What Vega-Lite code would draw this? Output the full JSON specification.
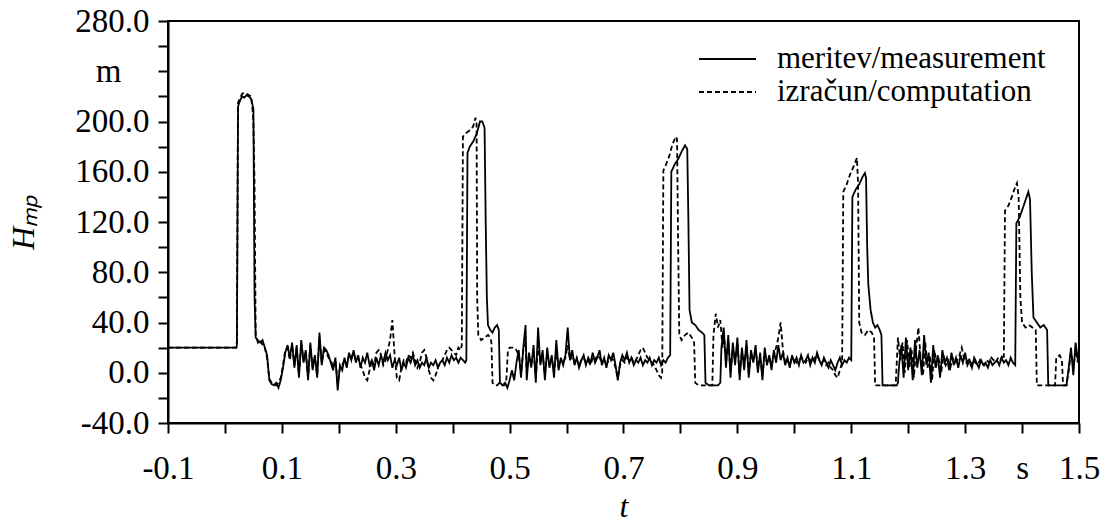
{
"$schema":"https://vega.github.io/schema/vega-lite/v6.json",
"width":911,"height":402,
"autosize":{"type":"none"},
"padding":{"left":168,"top":21,"right":38,"bottom":103},
"background":"white",
"config":{"view":{"stroke":"black","strokeWidth":2},"font":"Liberation Serif"},
"datasets":{
"m":[{"t":-0.1,"H":20},{"t":0.02,"H":20},{"t":0.021,"H":22},{"t":0.023,"H":212},{"t":0.026,"H":216},{"t":0.03,"H":220},{"t":0.034,"H":219},{"t":0.038,"H":221},{"t":0.042,"H":220},{"t":0.046,"H":218},{"t":0.048,"H":214},{"t":0.05,"H":210},{"t":0.052,"H":60},{"t":0.054,"H":28},{"t":0.058,"H":26},{"t":0.062,"H":24},{"t":0.066,"H":26},{"t":0.07,"H":20},{"t":0.074,"H":14},{"t":0.078,"H":-6},{"t":0.082,"H":-9},{"t":0.086,"H":-10},{"t":0.09,"H":-8},{"t":0.094,"H":-12},{"t":0.098,"H":-6},{"t":0.102,"H":4},
{"t":0.106,"H":16},{"t":0.11,"H":22},{"t":0.114,"H":12},{"t":0.118,"H":24},{"t":0.122,"H":4},{"t":0.126,"H":22},{"t":0.13,"H":-4},{"t":0.134,"H":26},{"t":0.138,"H":8},{"t":0.142,"H":18},{"t":0.146,"H":-6},{"t":0.15,"H":24},{"t":0.154,"H":2},{"t":0.158,"H":14},{"t":0.162,"H":-4},{"t":0.166,"H":32},{"t":0.17,"H":6},{"t":0.174,"H":20},{"t":0.178,"H":18},{"t":0.182,"H":14},{"t":0.186,"H":8},{"t":0.19,"H":2},{"t":0.194,"H":12},{"t":0.198,"H":-14},{"t":0.202,"H":6},{"t":0.206,"H":2},{"t":0.21,"H":12},{"t":0.214,"H":4},{"t":0.218,"H":16},{"t":0.222,"H":10},{"t":0.226,"H":18},{"t":0.23,"H":8},{"t":0.234,"H":14},{"t":0.238,"H":4},{"t":0.242,"H":12},{"t":0.246,"H":8},{"t":0.25,"H":16},{"t":0.254,"H":6},{"t":0.258,"H":10},{"t":0.262,"H":2},{"t":0.266,"H":12},{"t":0.27,"H":6},{"t":0.274,"H":14},{"t":0.278,"H":8},{"t":0.282,"H":16},{"t":0.286,"H":10},{"t":0.29,"H":14},{"t":0.294,"H":4},{"t":0.298,"H":10},{"t":0.302,"H":6},{"t":0.306,"H":12},{"t":0.31,"H":2},{"t":0.314,"H":8},{"t":0.318,"H":4},{"t":0.322,"H":12},{"t":0.326,"H":8},{"t":0.33,"H":14},{"t":0.334,"H":6},{"t":0.338,"H":10},{"t":0.342,"H":4},{"t":0.346,"H":8},{"t":0.35,"H":6},{"t":0.354,"H":12},{"t":0.358,"H":4},{"t":0.362,"H":8},{"t":0.366,"H":6},{"t":0.37,"H":10},{"t":0.374,"H":4},{"t":0.378,"H":8},{"t":0.382,"H":10},{"t":0.386,"H":6},{"t":0.39,"H":12},{"t":0.394,"H":8},{"t":0.398,"H":14},{"t":0.402,"H":10},{"t":0.406,"H":12},{"t":0.41,"H":8},{"t":0.414,"H":12},{"t":0.418,"H":10},{"t":0.422,"H":8},{"t":0.424,"H":10},
{"t":0.426,"H":175},{"t":0.43,"H":180},{"t":0.436,"H":184},{"t":0.442,"H":190},{"t":0.448,"H":200},{"t":0.452,"H":200},{"t":0.456,"H":195},{"t":0.458,"H":120},{"t":0.46,"H":60},{"t":0.462,"H":38},{"t":0.466,"H":34},{"t":0.47,"H":32},{"t":0.474,"H":36},{"t":0.478,"H":38},{"t":0.481,"H":34},{"t":0.483,"H":-8},{"t":0.488,"H":-10},{"t":0.492,"H":-8},{"t":0.496,"H":-12},{"t":0.5,"H":-6},
{"t":0.504,"H":2},{"t":0.508,"H":-6},{"t":0.512,"H":8},{"t":0.516,"H":18},{"t":0.52,"H":-4},{"t":0.524,"H":20},{"t":0.528,"H":38},{"t":0.53,"H":-6},{"t":0.534,"H":16},{"t":0.538,"H":4},{"t":0.542,"H":22},{"t":0.546,"H":-8},{"t":0.55,"H":36},{"t":0.554,"H":6},{"t":0.558,"H":18},{"t":0.562,"H":-6},{"t":0.566,"H":20},{"t":0.57,"H":4},{"t":0.574,"H":14},{"t":0.578,"H":-4},{"t":0.582,"H":26},{"t":0.586,"H":2},{"t":0.59,"H":12},{"t":0.594,"H":6},{"t":0.598,"H":14},{"t":0.602,"H":36},{"t":0.606,"H":10},{"t":0.61,"H":18},{"t":0.614,"H":6},{"t":0.618,"H":12},{"t":0.622,"H":4},{"t":0.626,"H":10},{"t":0.63,"H":14},{"t":0.634,"H":6},{"t":0.638,"H":12},{"t":0.642,"H":8},{"t":0.646,"H":16},{"t":0.65,"H":8},{"t":0.654,"H":12},{"t":0.658,"H":18},{"t":0.662,"H":6},{"t":0.666,"H":12},{"t":0.67,"H":4},{"t":0.674,"H":14},{"t":0.678,"H":10},{"t":0.682,"H":16},{"t":0.686,"H":6},{"t":0.69,"H":-6},{"t":0.694,"H":8},{"t":0.698,"H":14},{"t":0.702,"H":10},{"t":0.706,"H":16},{"t":0.71,"H":8},{"t":0.714,"H":12},{"t":0.718,"H":6},{"t":0.722,"H":10},{"t":0.726,"H":8},{"t":0.73,"H":12},{"t":0.734,"H":6},{"t":0.738,"H":10},{"t":0.742,"H":8},{"t":0.746,"H":12},{"t":0.75,"H":6},{"t":0.754,"H":10},{"t":0.758,"H":8},{"t":0.762,"H":12},{"t":0.766,"H":6},{"t":0.77,"H":10},{"t":0.774,"H":8},{"t":0.778,"H":12},{"t":0.782,"H":14},
{"t":0.784,"H":160},{"t":0.79,"H":166},{"t":0.796,"H":170},{"t":0.802,"H":176},{"t":0.808,"H":181},{"t":0.812,"H":178},{"t":0.814,"H":120},{"t":0.816,"H":50},{"t":0.82,"H":40},{"t":0.826,"H":38},{"t":0.832,"H":34},{"t":0.838,"H":32},{"t":0.842,"H":30},{"t":0.844,"H":-8},{"t":0.85,"H":-10},{"t":0.856,"H":-10},{"t":0.862,"H":-10},{"t":0.866,"H":-10},{"t":0.87,"H":-8},{"t":0.872,"H":20},
{"t":0.876,"H":36},{"t":0.88,"H":4},{"t":0.884,"H":30},{"t":0.888,"H":-4},{"t":0.892,"H":24},{"t":0.896,"H":6},{"t":0.9,"H":28},{"t":0.904,"H":-6},{"t":0.908,"H":20},{"t":0.912,"H":2},{"t":0.916,"H":26},{"t":0.92,"H":-4},{"t":0.924,"H":18},{"t":0.928,"H":8},{"t":0.932,"H":22},{"t":0.936,"H":0},{"t":0.94,"H":16},{"t":0.944,"H":-6},{"t":0.948,"H":20},{"t":0.952,"H":6},{"t":0.956,"H":14},{"t":0.96,"H":2},{"t":0.964,"H":18},{"t":0.968,"H":8},{"t":0.972,"H":22},{"t":0.976,"H":10},{"t":0.98,"H":16},{"t":0.984,"H":6},{"t":0.988,"H":12},{"t":0.992,"H":4},{"t":0.996,"H":14},{"t":1.0,"H":8},{"t":1.004,"H":12},{"t":1.008,"H":6},{"t":1.012,"H":14},{"t":1.016,"H":8},{"t":1.02,"H":10},{"t":1.024,"H":14},{"t":1.028,"H":6},{"t":1.032,"H":12},{"t":1.036,"H":8},{"t":1.04,"H":16},{"t":1.044,"H":10},{"t":1.048,"H":6},{"t":1.052,"H":12},{"t":1.056,"H":8},{"t":1.06,"H":4},{"t":1.064,"H":10},{"t":1.068,"H":6},{"t":1.072,"H":2},{"t":1.076,"H":8},{"t":1.08,"H":12},{"t":1.084,"H":6},{"t":1.088,"H":10},{"t":1.092,"H":8},{"t":1.096,"H":12},{"t":1.1,"H":10},
{"t":1.102,"H":140},{"t":1.108,"H":146},{"t":1.114,"H":150},{"t":1.12,"H":156},{"t":1.124,"H":159},{"t":1.126,"H":155},{"t":1.128,"H":100},{"t":1.13,"H":70},{"t":1.134,"H":50},{"t":1.138,"H":40},{"t":1.142,"H":36},{"t":1.146,"H":38},{"t":1.15,"H":34},{"t":1.153,"H":30},{"t":1.155,"H":-10},{"t":1.16,"H":-10},{"t":1.17,"H":-10},{"t":1.18,"H":-10},{"t":1.182,"H":-8},
{"t":1.184,"H":6},{"t":1.188,"H":22},{"t":1.192,"H":-4},{"t":1.196,"H":28},{"t":1.2,"H":2},{"t":1.204,"H":20},{"t":1.208,"H":-6},{"t":1.212,"H":26},{"t":1.216,"H":4},{"t":1.22,"H":18},{"t":1.224,"H":-2},{"t":1.228,"H":30},{"t":1.232,"H":6},{"t":1.236,"H":16},{"t":1.24,"H":-8},{"t":1.244,"H":22},{"t":1.248,"H":4},{"t":1.252,"H":14},{"t":1.256,"H":-4},{"t":1.26,"H":18},{"t":1.264,"H":8},{"t":1.268,"H":12},{"t":1.272,"H":2},{"t":1.276,"H":16},{"t":1.28,"H":6},{"t":1.284,"H":12},{"t":1.288,"H":4},{"t":1.292,"H":14},{"t":1.296,"H":8},{"t":1.3,"H":16},{"t":1.304,"H":6},{"t":1.308,"H":10},{"t":1.312,"H":4},{"t":1.316,"H":12},{"t":1.32,"H":8},{"t":1.324,"H":4},{"t":1.328,"H":10},{"t":1.332,"H":6},{"t":1.336,"H":8},{"t":1.34,"H":4},{"t":1.344,"H":10},{"t":1.348,"H":6},{"t":1.352,"H":8},{"t":1.356,"H":10},{"t":1.36,"H":6},{"t":1.364,"H":12},{"t":1.368,"H":8},{"t":1.372,"H":10},{"t":1.376,"H":6},{"t":1.38,"H":12},{"t":1.384,"H":8},{"t":1.388,"H":6},
{"t":1.39,"H":119},{"t":1.396,"H":124},{"t":1.402,"H":132},{"t":1.408,"H":140},{"t":1.411,"H":144},{"t":1.414,"H":138},{"t":1.417,"H":80},{"t":1.42,"H":44},{"t":1.426,"H":40},{"t":1.432,"H":36},{"t":1.438,"H":38},{"t":1.444,"H":34},{"t":1.446,"H":-10},{"t":1.46,"H":-10},{"t":1.478,"H":-10},{"t":1.482,"H":4},{"t":1.486,"H":20},{"t":1.49,"H":-2},{"t":1.494,"H":24},{"t":1.498,"H":10},{"t":1.5,"H":18}],
"c":[{"t":-0.1,"H":20},{"t":0.02,"H":20},{"t":0.021,"H":25},{"t":0.023,"H":215},{"t":0.026,"H":218},{"t":0.03,"H":222},{"t":0.034,"H":223},{"t":0.038,"H":222},{"t":0.042,"H":221},{"t":0.046,"H":220},{"t":0.048,"H":212},{"t":0.05,"H":200},{"t":0.052,"H":150},{"t":0.054,"H":30},{"t":0.058,"H":24},{"t":0.062,"H":26},{"t":0.066,"H":22},{"t":0.07,"H":20},{"t":0.074,"H":12},{"t":0.078,"H":-5},{"t":0.082,"H":-8},{"t":0.086,"H":-9},{"t":0.09,"H":-10},{"t":0.094,"H":-8},{"t":0.098,"H":-4},{"t":0.102,"H":6},
{"t":0.106,"H":18},{"t":0.11,"H":20},{"t":0.114,"H":10},{"t":0.118,"H":22},{"t":0.122,"H":6},{"t":0.126,"H":20},{"t":0.13,"H":-2},{"t":0.134,"H":24},{"t":0.138,"H":10},{"t":0.142,"H":16},{"t":0.146,"H":-4},{"t":0.15,"H":22},{"t":0.154,"H":4},{"t":0.158,"H":12},{"t":0.162,"H":-2},{"t":0.166,"H":28},{"t":0.17,"H":8},{"t":0.174,"H":18},{"t":0.178,"H":16},{"t":0.182,"H":12},{"t":0.186,"H":10},{"t":0.19,"H":4},{"t":0.194,"H":10},{"t":0.198,"H":-8},{"t":0.202,"H":4},{"t":0.206,"H":6},{"t":0.21,"H":10},{"t":0.214,"H":6},{"t":0.218,"H":14},{"t":0.222,"H":12},{"t":0.226,"H":16},{"t":0.23,"H":10},{"t":0.234,"H":12},{"t":0.238,"H":6},{"t":0.242,"H":2},{"t":0.246,"H":-4},{"t":0.25,"H":-6},{"t":0.254,"H":2},{"t":0.258,"H":10},{"t":0.262,"H":6},{"t":0.266,"H":16},{"t":0.27,"H":18},{"t":0.274,"H":14},{"t":0.278,"H":6},{"t":0.282,"H":10},{"t":0.286,"H":18},{"t":0.29,"H":26},{"t":0.294,"H":42},{"t":0.298,"H":14},{"t":0.302,"H":-4},{"t":0.306,"H":-6},{"t":0.31,"H":4},{"t":0.314,"H":10},{"t":0.318,"H":8},{"t":0.322,"H":14},{"t":0.326,"H":12},{"t":0.33,"H":16},{"t":0.334,"H":10},{"t":0.338,"H":4},{"t":0.342,"H":8},{"t":0.346,"H":16},{"t":0.35,"H":18},{"t":0.354,"H":12},{"t":0.358,"H":2},{"t":0.362,"H":-4},{"t":0.366,"H":-6},{"t":0.37,"H":-2},{"t":0.374,"H":4},{"t":0.378,"H":8},{"t":0.382,"H":10},{"t":0.386,"H":14},{"t":0.39,"H":18},{"t":0.394,"H":20},{"t":0.398,"H":18},{"t":0.402,"H":16},{"t":0.406,"H":14},{"t":0.41,"H":20},{"t":0.414,"H":18},{"t":0.416,"H":22},
{"t":0.418,"H":188},{"t":0.424,"H":191},{"t":0.43,"H":193},{"t":0.436,"H":196},{"t":0.44,"H":203},{"t":0.442,"H":198},{"t":0.443,"H":60},{"t":0.445,"H":30},{"t":0.45,"H":26},{"t":0.456,"H":28},{"t":0.462,"H":30},{"t":0.466,"H":28},{"t":0.468,"H":24},{"t":0.47,"H":-8},{"t":0.474,"H":-10},{"t":0.478,"H":-10},{"t":0.482,"H":-8},{"t":0.486,"H":-10},{"t":0.49,"H":-10},{"t":0.494,"H":-8},{"t":0.497,"H":18},{"t":0.5,"H":20},{"t":0.504,"H":20},{"t":0.508,"H":20},{"t":0.512,"H":18},{"t":0.516,"H":14},{"t":0.52,"H":-2},{"t":0.524,"H":18},{"t":0.528,"H":24},{"t":0.53,"H":0},{"t":0.534,"H":14},{"t":0.538,"H":6},{"t":0.542,"H":18},{"t":0.546,"H":-4},{"t":0.55,"H":22},{"t":0.554,"H":8},{"t":0.558,"H":14},{"t":0.562,"H":-2},{"t":0.566,"H":16},{"t":0.57,"H":6},{"t":0.574,"H":12},{"t":0.578,"H":0},{"t":0.582,"H":18},{"t":0.586,"H":4},{"t":0.59,"H":10},{"t":0.594,"H":8},{"t":0.598,"H":12},{"t":0.602,"H":22},{"t":0.606,"H":10},{"t":0.61,"H":14},{"t":0.614,"H":8},{"t":0.618,"H":10},{"t":0.622,"H":6},{"t":0.626,"H":10},{"t":0.63,"H":12},{"t":0.634,"H":8},{"t":0.638,"H":10},{"t":0.642,"H":6},{"t":0.646,"H":12},{"t":0.65,"H":10},{"t":0.654,"H":14},{"t":0.658,"H":12},{"t":0.662,"H":8},{"t":0.666,"H":10},{"t":0.67,"H":6},{"t":0.674,"H":10},{"t":0.678,"H":12},{"t":0.682,"H":10},{"t":0.686,"H":4},{"t":0.69,"H":-4},{"t":0.694,"H":6},{"t":0.698,"H":10},{"t":0.702,"H":8},{"t":0.706,"H":12},{"t":0.71,"H":10},{"t":0.714,"H":12},{"t":0.718,"H":8},{"t":0.722,"H":10},{"t":0.726,"H":14},{"t":0.73,"H":18},{"t":0.734,"H":20},{"t":0.738,"H":16},{"t":0.742,"H":12},{"t":0.746,"H":10},{"t":0.75,"H":8},{"t":0.754,"H":6},{"t":0.758,"H":2},{"t":0.762,"H":-2},{"t":0.766,"H":-4},{"t":0.768,"H":0},
{"t":0.77,"H":161},{"t":0.774,"H":165},{"t":0.78,"H":172},{"t":0.786,"H":182},{"t":0.792,"H":188},{"t":0.794,"H":186},{"t":0.796,"H":100},{"t":0.798,"H":30},{"t":0.802,"H":26},{"t":0.808,"H":30},{"t":0.814,"H":32},{"t":0.82,"H":28},{"t":0.824,"H":24},{"t":0.826,"H":-8},{"t":0.832,"H":-10},{"t":0.84,"H":-10},{"t":0.848,"H":-10},{"t":0.856,"H":-10},{"t":0.858,"H":30},{"t":0.862,"H":47},{"t":0.866,"H":36},{"t":0.87,"H":42},{"t":0.874,"H":20},{"t":0.876,"H":34},{"t":0.88,"H":8},{"t":0.884,"H":26},{"t":0.888,"H":0},{"t":0.892,"H":20},{"t":0.896,"H":10},{"t":0.9,"H":24},{"t":0.904,"H":-2},{"t":0.908,"H":16},{"t":0.912,"H":6},{"t":0.916,"H":22},{"t":0.92,"H":0},{"t":0.924,"H":14},{"t":0.928,"H":10},{"t":0.932,"H":18},{"t":0.936,"H":4},{"t":0.94,"H":12},{"t":0.944,"H":-2},{"t":0.948,"H":16},{"t":0.952,"H":8},{"t":0.956,"H":12},{"t":0.96,"H":6},{"t":0.964,"H":14},{"t":0.968,"H":20},{"t":0.972,"H":28},{"t":0.976,"H":40},{"t":0.98,"H":18},{"t":0.984,"H":8},{"t":0.988,"H":10},{"t":0.992,"H":6},{"t":0.996,"H":12},{"t":1.0,"H":10},{"t":1.004,"H":8},{"t":1.008,"H":10},{"t":1.012,"H":12},{"t":1.016,"H":10},{"t":1.02,"H":8},{"t":1.024,"H":12},{"t":1.028,"H":10},{"t":1.032,"H":8},{"t":1.036,"H":12},{"t":1.04,"H":14},{"t":1.044,"H":10},{"t":1.048,"H":8},{"t":1.052,"H":10},{"t":1.056,"H":6},{"t":1.06,"H":8},{"t":1.064,"H":4},{"t":1.068,"H":2},{"t":1.072,"H":-2},{"t":1.076,"H":-4},{"t":1.08,"H":2},{"t":1.084,"H":8},
{"t":1.086,"H":144},{"t":1.092,"H":150},{"t":1.098,"H":158},{"t":1.104,"H":164},{"t":1.11,"H":171},{"t":1.112,"H":150},{"t":1.114,"H":40},{"t":1.118,"H":32},{"t":1.124,"H":30},{"t":1.13,"H":34},{"t":1.136,"H":32},{"t":1.14,"H":28},{"t":1.142,"H":-10},{"t":1.16,"H":-10},{"t":1.178,"H":-10},{"t":1.182,"H":28},{"t":1.186,"H":10},{"t":1.19,"H":24},{"t":1.194,"H":0},{"t":1.198,"H":26},{"t":1.202,"H":4},{"t":1.206,"H":18},{"t":1.21,"H":-4},{"t":1.214,"H":20},{"t":1.218,"H":36},{"t":1.222,"H":10},{"t":1.226,"H":-2},{"t":1.23,"H":24},{"t":1.234,"H":4},{"t":1.238,"H":14},{"t":1.242,"H":-6},{"t":1.246,"H":18},{"t":1.25,"H":6},{"t":1.254,"H":10},{"t":1.258,"H":0},{"t":1.262,"H":14},{"t":1.266,"H":6},{"t":1.27,"H":10},{"t":1.274,"H":4},{"t":1.278,"H":12},{"t":1.282,"H":8},{"t":1.286,"H":10},{"t":1.29,"H":14},{"t":1.294,"H":20},{"t":1.298,"H":12},{"t":1.302,"H":8},{"t":1.306,"H":10},{"t":1.31,"H":6},{"t":1.314,"H":10},{"t":1.318,"H":8},{"t":1.322,"H":6},{"t":1.326,"H":10},{"t":1.33,"H":8},{"t":1.334,"H":6},{"t":1.338,"H":10},{"t":1.342,"H":8},{"t":1.346,"H":12},{"t":1.35,"H":10},{"t":1.354,"H":8},{"t":1.358,"H":12},{"t":1.362,"H":10},{"t":1.366,"H":14},{"t":1.368,"H":12},
{"t":1.37,"H":129},{"t":1.376,"H":133},{"t":1.382,"H":140},{"t":1.388,"H":148},{"t":1.391,"H":151},{"t":1.394,"H":140},{"t":1.397,"H":60},{"t":1.4,"H":40},{"t":1.406,"H":36},{"t":1.412,"H":38},{"t":1.418,"H":36},{"t":1.424,"H":34},{"t":1.426,"H":-10},{"t":1.458,"H":-10},{"t":1.46,"H":12},{"t":1.466,"H":14},{"t":1.47,"H":10},{"t":1.472,"H":-10},{"t":1.478,"H":-10},{"t":1.482,"H":2},{"t":1.486,"H":16},{"t":1.49,"H":4},{"t":1.494,"H":18},{"t":1.498,"H":8},{"t":1.5,"H":14}]
},
"encoding":{
"x":{"field":"t","type":"quantitative","scale":{"domain":[-0.1,1.5],"nice":false,"zero":false},
"axis":{"title":"t","values":[-0.1,0,0.1,0.2,0.3,0.4,0.5,0.6,0.7,0.8,0.9,1,1.1,1.2,1.3,1.4,1.5],
"labelExpr":"abs(round(datum.value*10))==14 ? 's' : (abs(round(datum.value*10))%2==1 ? ((datum.value<0 ? '-' : '') + format(abs(datum.value),'.1f')) : '')",
"labelFlush":false,"labelOverlap":false,"labelFont":"Liberation Serif","labelFontSize":33,"labelColor":"black","labelPadding":19,
"tickSize":10,"tickWidth":2,"tickColor":"black","domainColor":"black","domainWidth":2,"grid":false,
"titleFont":"Liberation Serif","titleFontSize":32,"titleFontStyle":"italic","titleFontWeight":"normal","titleColor":"black","titlePadding":6}},
"y":{"field":"H","type":"quantitative","scale":{"domain":[-40,280],"nice":false,"zero":false},
"axis":{"title":"Hₘₚ","values":[-40,-20,0,20,40,60,80,100,120,140,160,180,200,220,240,260,280],
"labelExpr":"datum.value==240 ? 'm' : (datum.value%40==0 ? ((datum.value<0 ? '-' : '') + format(abs(datum.value),'.1f')) : '')",
"labelPadding":{"condition":{"test":"datum.value==240","value":37},"value":9},
"labelOverlap":false,"labelFont":"Liberation Serif","labelFontSize":33,"labelColor":"black",
"tickSize":10,"tickWidth":2,"tickColor":"black","domainColor":"black","domainWidth":2,"grid":false,
"titleFont":"Liberation Serif","titleFontSize":32,"titleFontStyle":"italic","titleFontWeight":"normal","titleColor":"black","titlePadding":34}}
},
"layer":[
{"data":{"name":"m"},"mark":{"type":"line","color":"black","strokeWidth":1.8},
"encoding":{"strokeDash":{"datum":"meritev/measurement","type":"nominal",
"scale":{"domain":["meritev/measurement","izračun/computation"],"range":[[1,0],[5,3]]},
"legend":{"title":null,"orient":"none","legendX":530,"legendY":23,"symbolType":"stroke","symbolSize":3249,"symbolStrokeWidth":1.8,"symbolStrokeColor":"black","labelFont":"Liberation Serif","labelFontSize":31,"labelColor":"black","labelLimit":0,"labelOffset":20,"clipHeight":30,"rowPadding":2,"padding":0}}}},
{"data":{"name":"c"},"mark":{"type":"line","color":"black","strokeWidth":1.8},
"encoding":{"strokeDash":{"datum":"izračun/computation","type":"nominal"}}}
]
}
